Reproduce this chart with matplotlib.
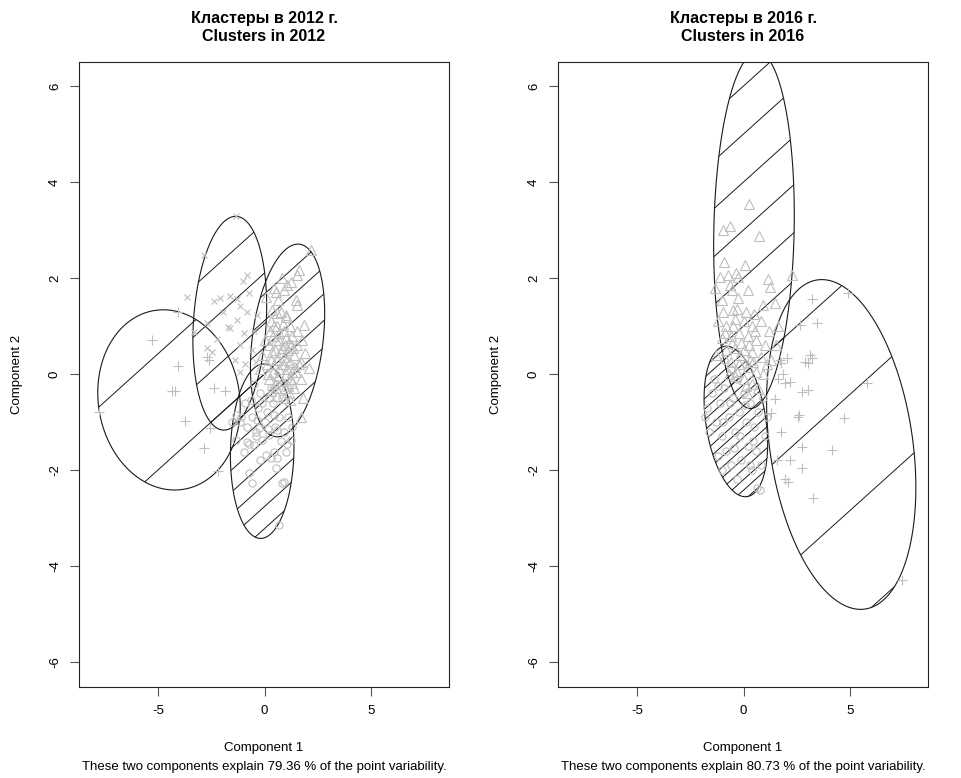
import numpy as np
import matplotlib
matplotlib.use("Agg")
import matplotlib.pyplot as plt
from matplotlib.patches import Polygon

plt.rcParams['font.family'] = ['Liberation Sans', 'DejaVu Sans']

titles = ['Кластеры в 2012 г.\nClusters in 2012', 'Кластеры в 2016 г.\nClusters in 2016']
explained = [79.36, 80.73]
x_ticks = [-5, 0, 5]
y_ticks = [-6, -4, -2, 0, 2, 4, 6]
x_range = (-8.7, 8.65)
y_range = (-6.53, 6.51)

# ellipses 2012: centre, half extents in x / y, correlation, hatch step along y=0
ell12_cx = [-4.48, -1.63, 1.08, -0.11]
ell12_cy = [-0.54, 1.06, 0.70, -1.61]
ell12_hx = [3.34, 1.73, 1.74, 1.49]
ell12_hy = [1.88, 2.23, 2.01, 1.82]
ell12_r = [-0.08, 0.16, 0.28, 0.05]
ell12_step = [6.05, 2.63, 1.39, 1.15]

# ellipses 2016
ell16_cx = [0.49, -0.36, 4.58]
ell16_cy = [3.00, -0.99, -1.47]
ell16_hx = [1.89, 1.49, 3.50]
ell16_hy = [3.72, 1.57, 3.44]
ell16_r = [0.085, -0.30, -0.26]
ell16_step = [2.50, 0.55, 6.05]

# points 2012
plus12 = [(-4.07, 1.29), (-5.29, 0.71), (-4.07, 0.17), (-4.35, -0.35), (-4.19, -0.35),
          (-3.72, -0.98), (-2.86, -1.54), (-2.19, -2.03), (-2.39, -0.30), (-1.85, -0.35),
          (-2.55, -1.13), (-7.76, -0.80), (-2.72, 0.35), (-2.61, 0.30)]
cross12 = [(-1.36, 3.30), (-2.86, 2.48), (-0.80, 2.07), (-0.99, 1.94), (-2.11, 1.59),
           (-2.35, 1.52), (-1.60, 1.63), (-1.31, 1.57), (-1.13, 1.42), (-0.80, 1.29),
           (-3.62, 1.61), (-1.60, 0.96), (-2.21, 0.73), (-2.68, 0.54), (-2.44, 0.46),
           (-1.13, 0.61), (-0.33, 1.23), (-2.72, 1.06), (-1.69, 0.98), (-1.27, 1.13),
           (-1.97, 1.29), (-0.60, 0.50), (-0.90, 0.20), (-1.40, 0.30), (-0.50, 0.90),
           (-3.33, 0.88), (-0.75, 1.70), (-0.95, 0.85), (-0.40, 0.25), (-1.15, 0.05)]
tri12 = [(2.16, 2.59), (1.54, 2.07), (0.83, 2.00), (1.07, 1.86), (1.22, 1.93), (1.46, 1.54),
         (1.54, 1.44), (0.44, 1.79), (0.05, 1.61), (0.99, 1.23), (1.85, 1.02), (1.92, 0.43),
         (1.69, 0.26), (2.08, 0.12), (1.46, 0.05), (1.69, -0.89), (1.30, -0.19), (1.61, 2.17),
         (0.52, 1.72), (0.91, 1.75), (0.36, 1.34), (0.60, 1.27),
         (0.30, 1.10), (0.60, 1.00), (0.90, 0.90), (1.20, 1.00), (0.40, 0.80), (0.70, 0.70),
         (1.00, 0.75), (1.30, 0.80), (1.50, 0.60), (0.20, 0.60), (0.50, 0.50), (0.80, 0.55),
         (1.10, 0.50), (1.40, 0.40), (0.30, 0.30), (0.60, 0.30), (0.90, 0.35), (1.20, 0.25),
         (1.60, 0.20), (0.40, 0.05), (0.70, 0.10), (1.00, 0.00), (1.30, 0.05), (0.20, -0.10),
         (0.50, -0.20), (0.80, -0.15), (1.10, -0.25), (1.40, -0.30), (0.60, -0.45), (0.90, -0.50),
         (1.20, -0.55), (1.00, 1.20), (0.75, 1.30), (1.15, 0.65), (0.85, 0.20), (0.55, 0.70),
         (1.05, 0.30), (0.65, -0.05), (1.25, -0.10), (0.35, 0.45), (0.95, -0.30), (1.50, 0.90),
         (0.45, 1.00), (1.35, 0.55), (0.10, 0.20), (1.70, -0.10), (1.80, -0.50), (0.00, 0.70),
         (-0.10, 0.40), (0.25, 0.90), (0.85, 1.05), (1.25, 0.60), (0.45, 0.20), (0.75, 0.45),
         (1.05, 0.10), (0.15, 0.00), (0.55, -0.30), (1.15, -0.40), (0.70, 0.85), (1.45, 0.15),
         (0.30, -0.35), (-0.20, 0.10), (0.95, 0.60), (0.65, 1.55), (1.75, 0.70)]
circ12 = [(-0.74, -2.07), (-0.58, -2.28), (0.83, -2.28), (0.91, -2.25), (0.05, -1.69),
          (0.28, -1.76), (-0.19, -1.80), (0.52, -1.97), (-0.81, -1.41), (-0.74, -1.47),
          (1.07, -1.45), (1.22, -1.38), (0.67, -3.15), (-0.11, -1.38), (0.20, -1.27),
          (-0.42, -1.20), (-0.27, -1.13), (0.60, -1.17), (-1.36, -1.38), (-1.52, -1.00),
          (0.44, -1.62), (0.99, -1.62), (-0.97, -1.62), (-0.50, -1.48), (0.60, -1.76),
          (-0.60, -0.90), (-0.30, -0.70), (0.10, -0.80), (0.40, -0.60), (0.70, -0.90),
          (-0.90, -0.60), (-0.20, -0.40), (0.30, -0.30), (0.80, -0.50), (1.10, -0.90),
          (-0.50, -0.20), (0.00, -1.00), (0.50, -1.10), (-1.10, -0.90), (0.90, -1.20),
          (-0.40, -1.30), (0.20, -0.50), (0.60, -0.20), (-0.80, -1.10), (1.30, -1.10),
          (-1.36, -0.86), (-1.13, -1.00), (-0.10, -0.60), (0.45, -0.85), (-0.65, -0.55),
          (0.15, -1.15), (-0.35, -0.95), (0.75, -1.40)]

# points 2016
tri16 = [(0.25, 3.54), (-0.95, 3.01), (-0.64, 3.08), (0.72, 2.87), (-0.92, 2.34), (0.06, 2.28),
         (-1.11, 2.03), (-0.72, 2.07), (-0.33, 2.10), (-0.25, 2.03), (1.16, 1.98), (1.23, 1.82),
         (2.28, 2.07), (-1.35, 1.79), (-0.64, 1.86), (-0.56, 1.75), (0.22, 1.75), (-1.03, 1.54),
         (-0.25, 1.58), (0.92, 1.44), (1.47, 1.48), (-0.95, 1.30), (-0.48, 1.34),
         (-1.20, 1.10), (-0.80, 1.00), (-0.40, 1.15), (0.00, 1.10), (0.40, 1.00), (0.80, 1.10),
         (1.20, 0.90), (-1.00, 0.75), (-0.60, 0.80), (-0.20, 0.85), (0.20, 0.80), (0.60, 0.70),
         (1.00, 0.60), (-0.80, 0.50), (-0.40, 0.55), (0.00, 0.50), (0.40, 0.45), (0.80, 0.35),
         (1.30, 0.30), (-0.60, 0.25), (-0.20, 0.20), (0.20, 0.15), (0.60, 0.05), (-0.40, -0.05),
         (0.00, -0.10), (0.40, -0.20), (-0.10, 0.65), (0.30, 0.30), (-0.70, 0.00), (0.90, 0.00),
         (0.10, 1.30), (-0.30, 1.35), (0.50, 1.25), (1.50, 0.60), (-1.30, 0.40), (0.70, -0.30),
         (1.10, 0.20), (-0.50, 1.00), (0.15, -0.40), (1.60, 1.00), (-0.15, 0.40), (0.25, 0.60),
         (-0.55, 0.65), (0.55, 0.90), (-0.30, 0.05), (0.10, -0.25), (0.45, 0.25), (-0.85, 0.85)]
circ16 = [(-1.70, -0.70), (-1.50, -0.40), (-1.30, -1.00), (-1.60, -1.20), (-1.10, -0.60),
          (-0.90, -0.30), (-1.00, -1.30), (-0.70, -0.90), (-0.50, -0.50), (-0.80, -1.60),
          (-0.40, -1.20), (-0.20, -0.80), (0.00, -0.40), (-0.30, -0.10), (0.10, -1.00),
          (0.30, -0.60), (0.50, -1.10), (0.20, -1.50), (-0.10, -1.80), (0.60, -1.60),
          (0.40, -2.00), (0.70, -0.80), (-0.60, -1.90), (1.00, -1.30), (0.90, -0.50),
          (0.61, -2.38), (0.75, -2.42), (-1.20, -1.70), (-1.40, -0.10), (-0.60, 0.10),
          (0.10, 0.20), (-0.90, 0.30), (-1.00, -2.00), (-0.30, -2.20), (0.30, -1.90),
          (0.80, -1.90), (1.10, -0.90), (-1.80, -0.90), (-1.20, -0.25), (-0.65, -0.60),
          (-0.15, -1.30), (0.45, -1.40), (-0.95, -1.00), (-0.45, -1.55), (0.05, -0.65)]
plus16 = [(3.23, 1.56), (4.88, 1.70), (3.43, 1.07), (2.64, 1.02), (3.11, 0.40), (3.19, 0.33),
          (2.88, 0.26), (3.04, 0.22), (1.86, 0.01), (1.94, -0.19), (2.72, -0.37), (3.04, -0.33),
          (1.47, -0.53), (5.77, -0.19), (2.60, -0.86), (4.73, -0.92), (1.78, -1.20), (2.72, -1.52),
          (4.13, -1.59), (1.55, -1.80), (2.17, -1.80), (2.72, -1.97), (1.94, -2.18), (2.10, -2.25),
          (3.27, -2.59), (7.45, -4.29), (1.31, -0.82), (1.78, 0.22), (2.02, 0.33), (2.16, -0.16),
          (2.57, -0.89), (1.70, 0.30), (1.60, -0.10)]

panels = [
    dict(cx=ell12_cx, cy=ell12_cy, hx=ell12_hx, hy=ell12_hy, r=ell12_r, step=ell12_step,
         groups=[(plus12, '+', 6.5), (cross12, 'x', 5), (tri12, '^', 6.5), (circ12, 'o', 5.2)]),
    dict(cx=ell16_cx, cy=ell16_cy, hx=ell16_hx, hy=ell16_hy, r=ell16_r, step=ell16_step,
         groups=[(tri16, '^', 6.5), (circ16, 'o', 5.2), (plus16, '+', 6.5)]),
]

POINT_COL = '#BEBEBE'
HATCH_ANGLE = 42  # degrees on screen

fig = plt.figure(figsize=(9.61, 7.78), dpi=100)
ax_left = [79 / 961, 558 / 961]

for i, p in enumerate(panels):
    ax = fig.add_axes([ax_left[i], 91 / 778, 370 / 961, 625 / 778])
    ax.set_xlim(*x_range)
    ax.set_ylim(*y_range)
    ax.set_xticks(x_ticks)
    ax.set_xticklabels([str(v) for v in x_ticks], fontsize=9.5)
    ax.set_yticks(y_ticks)
    ax.set_yticklabels([str(v) for v in y_ticks], fontsize=9.5, rotation=90, va='center')
    ax.tick_params(direction='out', length=6.5, width=0.8, color='#555555', pad=6.5)
    for s in ax.spines.values():
        s.set_linewidth(0.8)
        s.set_color('#222222')

    # slope of hatch lines in data units
    q = ax.transData.transform([(0, 0), (1, 1)])
    slope = np.tan(np.radians(HATCH_ANGLE)) * (q[1, 0] - q[0, 0]) / (q[1, 1] - q[0, 1])

    t = np.linspace(0, 2 * np.pi, 300)
    for cx, cy, hx, hy, r, step in zip(p['cx'], p['cy'], p['hx'], p['hy'], p['r'], p['step']):
        ex = cx + hx * np.cos(t)
        ey = cy + hy * (r * np.cos(t) + np.sqrt(1 - r * r) * np.sin(t))
        poly = Polygon(np.column_stack([ex, ey]), closed=True, fill=False,
                       edgecolor='#1a1a1a', linewidth=0.8, zorder=2)
        ax.add_patch(poly)
        x0 = ex - ey / slope
        yy = np.array([ey.min() - 1, ey.max() + 1])
        for k in range(int(np.floor(x0.min() / step)), int(np.ceil(x0.max() / step)) + 1):
            ln, = ax.plot(k * step + yy / slope, yy, color='#1a1a1a', lw=0.7, zorder=2)
            ln.set_clip_path(poly)

    for pts, mk, ms in p['groups']:
        xs = [a for a, b in pts]
        ys = [b for a, b in pts]
        ax.plot(xs, ys, linestyle='none', marker=mk, ms=ms, mfc='none', mec=POINT_COL,
                mew=0.8, zorder=3)

    ax.text(0.5, (687 - 27.5) / 625, titles[i], transform=ax.transAxes, ha='center',
            va='center', fontsize=11.5, fontweight='bold', linespacing=1.2)
    ax.text(0.5, (687 - 748) / 625, 'Component 1', transform=ax.transAxes, ha='center',
            va='center', fontsize=9.5)
    ax.text(0.5, (687 - 767) / 625,
            'These two components explain %.2f %% of the point variability.' % explained[i],
            transform=ax.transAxes, ha='center', va='center', fontsize=9.5)
    ax.text(-0.167, 0.5, 'Component 2', transform=ax.transAxes, ha='center', va='center',
            rotation=90, fontsize=9.5)

fig.savefig('out.png', dpi=100)
